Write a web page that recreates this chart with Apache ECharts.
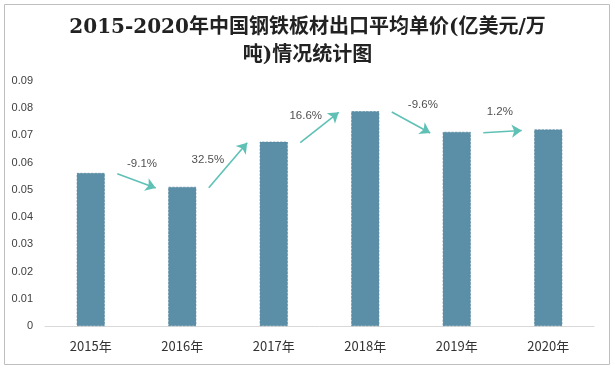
<!DOCTYPE html>
<html><head><meta charset="utf-8">
<script src="https://cdn.jsdelivr.net/npm/echarts@6/dist/echarts.min.js"></script>
<style>html,body{margin:0;padding:0;background:#fff;}#c{width:615px;height:369px;}</style>
</head><body><div id="c"></div>
<script>
const categories = ['2015年','2016年','2017年','2018年','2019年','2020年'];
const prices = [0.0562, 0.0511, 0.0677, 0.0789, 0.0713, 0.0722];
const growthLabels = ['-9.1%','32.5%','16.6%','-9.6%','1.2%'];
const growthLabelX = [0.56, 1.28, 2.35, 3.63, 4.47];
const growthLabelY = [0.0595, 0.0610, 0.0771, 0.0812, 0.0786];
const yTicks = [0,0.01,0.02,0.03,0.04,0.05,0.06,0.07,0.08,0.09];

const arrows = [];
for (let i = 0; i < prices.length - 1; i++) {
  arrows.push({coords: [[i + 0.29, prices[i] - 0.0003], [i + 0.71, prices[i + 1] - 0.0004]]});
}
const labelPts = growthLabels.map((t, i) => ({value: [growthLabelX[i], growthLabelY[i]], name: t}));

const chart = echarts.init(document.getElementById('c'));
chart.setOption({
  animation: false,
  title: {
    text: '2015-2020年中国钢铁板材出口平均单价(亿美元/万\n吨)情况统计图',
    left: 'center', top: 9,
    textStyle: {fontFamily: '"DejaVu Serif", "Noto Sans CJK SC"', fontSize: 20, fontWeight: 'bold', color: '#222', lineHeight: 28}
  },
  graphic: [{type: 'rect', shape: {x: 4.5, y: 4.5, width: 605, height: 360}, style: {fill: 'none', stroke: '#bfbfbf', lineWidth: 1}, silent: true}],
  grid: {left: 45, right: 21, top: 81, bottom: 43},
  xAxis: [{
    type: 'category', data: categories,
    axisLine: {lineStyle: {color: '#d9d9d9'}}, axisTick: {show: false},
    axisLabel: {color: '#333', fontSize: 13, margin: 14, fontFamily: '"Noto Sans CJK SC"'}
  }, {
    type: 'value', min: -0.5, max: 5.5, show: false
  }],
  yAxis: {
    type: 'value', min: 0, max: 0.09, interval: 0.01,
    axisLine: {show: false}, axisTick: {show: false}, splitLine: {show: false},
    axisLabel: {color: '#404040', fontSize: 11, margin: 12, formatter: v => v === 0 ? '0' : v.toFixed(2)}
  },
  series: [{
    type: 'bar', data: prices, barWidth: 28,
    itemStyle: {color: '#5b8fa7', borderColor: '#4d7f96', borderWidth: 0.6, borderType: 'dashed'}
  }, {
    type: 'lines', coordinateSystem: 'cartesian2d', xAxisIndex: 1, yAxisIndex: 0,
    data: arrows, symbol: ['none', 'arrow'], symbolSize: 10,
    lineStyle: {color: '#5fc1b6', width: 1.6, opacity: 1}
  }, {
    type: 'scatter', xAxisIndex: 1, yAxisIndex: 0, symbolSize: 0, data: labelPts,
    label: {show: true, position: 'inside', formatter: p => p.name, color: '#222', fontSize: 11.5}
  }]
});
</script></body></html>
